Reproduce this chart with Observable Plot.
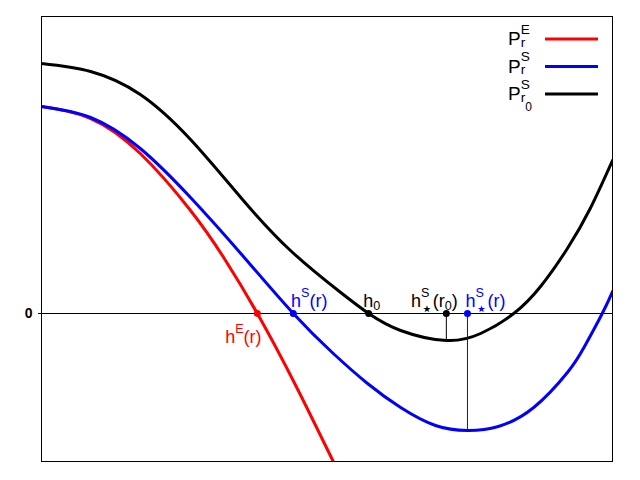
<!DOCTYPE html>
<html><head><meta charset="utf-8">
<script src="https://cdn.jsdelivr.net/npm/d3@7"></script>
<script src="https://cdn.jsdelivr.net/npm/@observablehq/plot@0.6"></script>
<style>
body{margin:0;background:#fff;font-family:"Liberation Sans",Arial,sans-serif;}
#wrap{position:relative;width:640px;height:480px;}
</style></head><body><div id="wrap"></div>
<script>
// Curve P_r^E (red)
const xE = [0, 0.86, 1.73, 2.61, 3.19, 3.78, 4.47, 5.11, 5.40];
const yE = [2.07, 1.95, 1.60, 1.03, 0.56, 0, -0.74, -1.48, -1.80];
// Curve P_r^S (blue)
const xS = [0, 0.86, 1.73, 2.61, 3.49, 4.41, 5.11, 5.71, 6.29, 6.90, 7.46, 8.00, 8.62, 9.21, 9.50, 9.82, 10];
const yS = [2.07, 1.96, 1.65, 1.16, 0.60, 0, -0.40, -0.70, -0.94, -1.12, -1.17, -1.13, -0.94, -0.59, -0.34, 0, 0.22];
// Curve P_{r0}^S (black)
const xS0 = [0, 0.86, 1.73, 2.61, 3.49, 4.36, 5.24, 5.73, 6.29, 7.09, 7.69, 8.27, 8.74, 9.21, 9.61, 10];
const yS0 = [2.50, 2.42, 2.19, 1.74, 1.16, 0.63, 0.21, 0, -0.17, -0.27, -0.20, 0, 0.27, 0.65, 1.05, 1.53];

// Marked points on the zero line
const markerX = [3.78, 4.41, 5.73, 7.09, 7.46];
const markerLabel = ["h^{E}(r)", "h^{S}(r)", "h_{0}", "h^{S}_{⋆}(r_{0})", "h^{S}_{⋆}(r)"];
const markerSeries = ["E", "S", "S0", "S0", "S"];

// Minima with drop lines
const minX = [7.09, 7.46];
const minY = [-0.27, -1.17];
const minSeries = ["S0", "S"];

// Legend
const legendLabels = ["P^{E}_{r}", "P^{S}_{r}", "P^{S}_{r_{0}}"];
const legendSeries = ["E", "S", "S0"];

const yTicks = [0];

const color = {E: "#ff0000", S: "#0000ff", S0: "#000000"};

const curves = [
  {s: "E", x: xE, y: yE},
  {s: "S", x: xS, y: yS},
  {s: "S0", x: xS0, y: yS0}
];
const markers = markerX.map((x, i) => ({x, label: markerLabel[i], s: markerSeries[i]}));
const minima = minX.map((x, i) => ({x, y: minY[i], s: minSeries[i]}));

// label offsets (layout)
const labelOffsets = [[-14, 24], [16, -12], [3, -12], [-12, -12], [18, -12]];

const FONT = '"Liberation Sans", Arial, sans-serif';

const plot = Plot.plot({
  width: 640, height: 480,
  marginLeft: 41, marginRight: 28, marginTop: 16, marginBottom: 19,
  x: {domain: [0, 10], axis: null},
  y: {domain: [-1.48, 2.97], axis: null},
  color: {type: "identity"},
  style: {fontFamily: FONT, background: "white", color: "black"},
  marks: [
    Plot.ruleY(yTicks, {stroke: "black", strokeWidth: 1}),
    Plot.axisY({ticks: yTicks, label: null, tickSize: 3, tickPadding: 6, tickFormat: () => "0", fontWeight: "bold", fontSize: 14}),
    ...curves.map(c => Plot.line(c.x.map((x, i) => ({x, y: c.y[i]})), {
      x: "x", y: "y", stroke: color[c.s], strokeWidth: 3, curve: "natural", clip: true
    })),
    Plot.ruleX(minima, {x: "x", y1: () => 0, y2: "y", stroke: d => color[d.s], strokeWidth: 1}),
    Plot.dot(markers, {x: "x", y: () => 0, r: 3.5, fill: d => color[d.s], stroke: "none"}),
    ...markers.map((m, i) => Plot.text([m], {
      x: "x", y: () => 0, text: "label", fill: color[m.s], fontSize: 18,
      textAnchor: "middle", dx: labelOffsets[i][0], dy: labelOffsets[i][1]
    })),
    Plot.frame({stroke: "black", strokeWidth: 1})
  ]
});

const wrap = document.getElementById("wrap");
wrap.append(plot);

// Legend overlay
const lg = d3.create("svg")
  .attr("width", 640).attr("height", 480)
  .style("position", "absolute").style("left", "0px").style("top", "0px")
  .attr("font-family", FONT);
legendLabels.forEach((lab, i) => {
  lg.append("text").attr("class", "lgtext").attr("x", 508).attr("y", 45 + 27.5 * i)
    .attr("font-size", 19).attr("fill", "black").text(lab);
  lg.append("line").attr("x1", 545).attr("x2", 598)
    .attr("y1", 39 + 27.5 * i).attr("y2", 39 + 27.5 * i)
    .attr("stroke", color[legendSeries[i]]).attr("stroke-width", 3);
});
wrap.append(lg.node());

// ---- rich text (superscripts / subscripts) ----
function tokens(s) {
  const out = []; let buf = "";
  for (let i = 0; i < s.length;) {
    const c = s[i];
    if ((c === "^" || c === "_") && s[i + 1] === "{") {
      if (buf) { out.push({k: "n", s: buf}); buf = ""; }
      let d = 0, j = i + 1;
      for (; j < s.length; j++) {
        if (s[j] === "{") d++;
        else if (s[j] === "}") { d--; if (d === 0) break; }
      }
      out.push({k: c === "^" ? "sup" : "sub", s: s.slice(i + 2, j)});
      i = j + 1;
    } else { buf += c; i++; }
  }
  if (buf) out.push({k: "n", s: buf});
  return out;
}
function flat(s, size, shift, depth, o) {
  return tokens(s).flatMap(t => {
    if (t.k === "n") {
      const star = t.s === "⋆";
      return [{t: t.s, size: star ? size * 1.5 : size, shift: shift + (star ? o.star * size : 0), fam: star ? "DejaVu Sans" : null}];
    }
    if (t.k === "sup") return flat(t.s, Math.max(size * o.scale, o.min), shift - o.sup * size, depth + 1, o);
    return flat(t.s, Math.max(size * (depth ? o.nscale : o.scale), o.min), shift + (depth ? o.nsub : o.sub) * size, depth + 1, o);
  });
}
const NS = "http://www.w3.org/2000/svg";
function richText(el, str, base, o) {
  while (el.firstChild) el.removeChild(el.firstChild);
  let cur = 0, prev = null, pendingDx = 0;
  tokens(str).forEach(t => {
    let segs;
    if (t.k === "n") segs = flat(t.s, base, 0, 0, o);
    else if (t.k === "sup") segs = flat(t.s, Math.max(base * o.scale, o.min), -o.sup * base, 1, o);
    else segs = flat(t.s, Math.max(base * o.scale, o.min), o.sub * base, 1, o);
    const spans = segs.map((sg, i) => {
      const ts = document.createElementNS(NS, "tspan");
      ts.setAttribute("font-size", sg.size);
      if (sg.fam) ts.setAttribute("font-family", sg.fam);
      ts.setAttribute("dy", sg.shift - cur);
      cur = sg.shift;
      ts.textContent = sg.t;
      el.appendChild(ts);
      return ts;
    });
    const stacked = t.k === "sub" && prev && prev.k === "sup";
    if (stacked) spans[0].setAttribute("dx", -prev.w);
    else if (pendingDx) { spans[0].setAttribute("dx", pendingDx); }
    pendingDx = 0;
    const w = spans.reduce((a, sp) => a + sp.getComputedTextLength(), 0);
    if (stacked && w < prev.w) pendingDx = prev.w - w;
    prev = {k: t.k, w};
  });
}
const plotOpts = {sup: 0.55, sub: 0.16, nsub: 0.3, scale: 0.7, nscale: 0.9, min: 10, star: 0.4};
plot.querySelectorAll("text").forEach(el => {
  const s = el.textContent;
  if (s.includes("^{") || s.includes("_{")) richText(el, s, 18, plotOpts);
});
const legOpts = {sup: 0.6, sub: 0.08, nsub: 0.7, scale: 0.72, nscale: 0.88, min: 10, star: 0.4};
lg.node().querySelectorAll("text").forEach(el => richText(el, el.textContent, 19, legOpts));
</script>
</body></html>
